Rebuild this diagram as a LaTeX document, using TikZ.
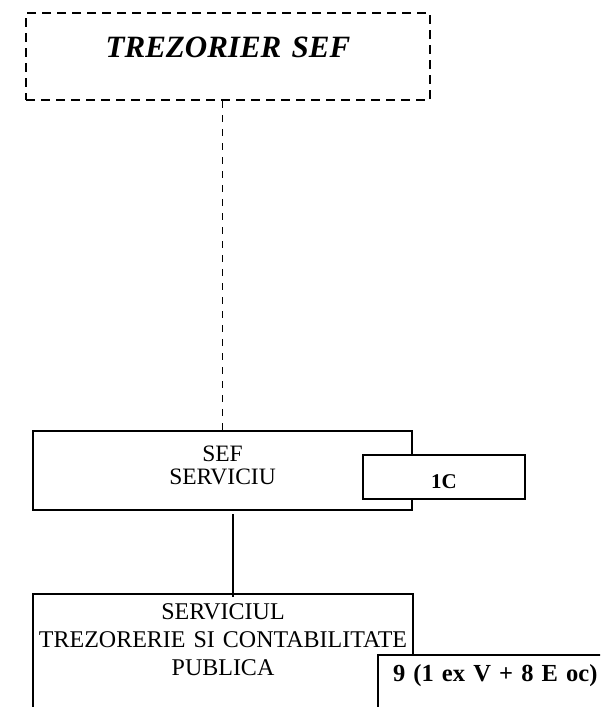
\documentclass[tikz,border=0pt]{standalone}
\usepackage{fontspec}
\setmainfont{Liberation Serif}
\usepackage{tikz}
\usetikzlibrary{calc}
\tikzset{ chief_box/.style = {rectangle, draw, dash pattern=on 9pt off 6pt, line width=2pt, inner sep=0pt, align=center, font=\fontsize{31}{31}\selectfont\bfseries\itshape} }
\tikzset{ unit_box/.style = {rectangle, draw, line width=2pt, fill=white, inner sep=0pt, align=center, font=\fontsize{23.5}{23}\selectfont} }
\tikzset{ staff_box/.style = {rectangle, draw, line width=2pt, fill=white, inner sep=0pt, font=\fontsize{21}{21}\selectfont\bfseries} }

\begin{document}
\begin{tikzpicture}[x=1pt, y=-1pt]
                \useasboundingbox (0, 0) rectangle (600, 707);
                \clip (0, 0) rectangle (600, 707);
                \node [chief_box, text width=404pt, text height=44pt, text depth=43pt] (T) at (228, 56.5) {TREZORIER SEF};
                \node [unit_box, anchor=north west, text width=379pt, text height=30pt, text depth=49pt] (S) at (32, 430) {SEF\\SERVICIU};
                \node [staff_box, minimum width=162pt, text height=33pt, text depth=11pt] (C) at (444, 477) {1C};
                \node [unit_box, anchor=north west, text width=380pt, text height=25pt, text depth=150pt, font=\fontsize{24}{28}\selectfont] (P) at (32, 593) {SERVICIUL\\TREZORERIE SI CONTABILITATE\\PUBLICA};
                \node [staff_box, anchor=north west, text width=250pt, inner xsep=15pt, text height=26pt, text depth=100pt, align=left, font=\fontsize{24.5}{24}\selectfont\bfseries] (N) at (377, 654) {9 (1 ex V + 8 E oc)};
                \draw [dash pattern=on 7pt off 7pt, line width=1.6pt] (S.north |- T.south) to (S.north);
                \draw [line width=2pt] ($(S.south)+(10.5, 3)$) to ($(S.south |- P.north)+(10.5, 4)$);
        \end{tikzpicture}
\end{document}
